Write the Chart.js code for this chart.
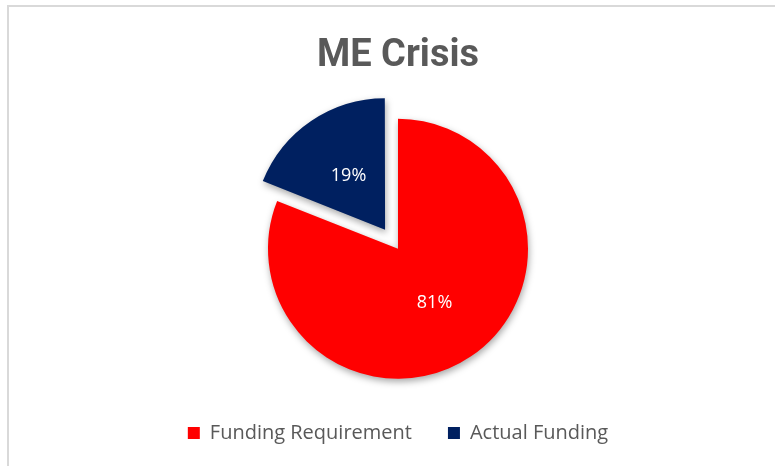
<!DOCTYPE html>
<html>
<head>
<meta charset="utf-8">
<script src="https://cdn.jsdelivr.net/npm/chart.js@4"></script>
<style>
  html, body { margin: 0; padding: 0; background: #fff; }
  #frame { position: absolute; left: 7px; top: 5px; width: 800px; height: 500px;
           border-left: 2px solid #d9d9d9; border-top: 2px solid #d9d9d9; }
  #wrap { position: absolute; left: 0; top: 0; width: 775px; height: 466px; }
</style>
</head>
<body>
<div id="frame"></div>
<div id="wrap"><canvas id="c" width="775" height="466"></canvas></div>
<script>
// data
const labels = ["Funding Requirement", "Actual Funding"];
const values = [81, 19];
const colors = ["#ff0000", "#002060"];

// how far each slice is pulled out, in px (chart.js moves an arc by offset/4)
const explodePx = [0, 23];

// soft drop shadow under the slices
const shadowPlugin = {
  id: "shadow",
  beforeDatasetsDraw(chart) {
    const ctx = chart.ctx;
    ctx.save();
    ctx.shadowColor = "rgba(0,0,0,0.35)";
    ctx.shadowBlur = 7;
    ctx.shadowOffsetX = 1;
    ctx.shadowOffsetY = 3;
  },
  afterDatasetsDraw(chart) {
    chart.ctx.restore();
  }
};

// percentage labels inside slices, halfway out from the centre
const pctPlugin = {
  id: "pct",
  afterDatasetsDraw(chart) {
    const ctx = chart.ctx;
    const meta = chart.getDatasetMeta(0);
    const total = values.reduce((a, b) => a + b, 0);
    ctx.save();
    ctx.fillStyle = "#ffffff";
    ctx.font = "18px 'Open Sans'";
    ctx.textAlign = "center";
    ctx.textBaseline = "middle";
    meta.data.forEach((arc, i) => {
      const mid = (arc.startAngle + arc.endAngle) / 2;
      const d = arc.outerRadius / 2 + explodePx[i];
      ctx.fillText(Math.round(values[i] / total * 100) + "%",
        arc.x + Math.cos(mid) * d, arc.y + Math.sin(mid) * d);
    });
    ctx.restore();
  }
};

new Chart(document.getElementById("c"), {
  type: "pie",
  data: {
    labels: labels,
    datasets: [{
      data: values,
      backgroundColor: colors,
      borderWidth: 0,
      offset: explodePx.map(v => v * 4)
    }]
  },
  options: {
    responsive: false,
    animation: false,
    radius: 130,
    layout: { padding: { left: 21, bottom: 13 } },
    plugins: {
      title: {
        display: true,
        text: "ME Crisis",
        color: "#595959",
        font: { family: "Roboto", size: 38, weight: "bold" },
        padding: { top: 34, bottom: 31 }
      },
      legend: {
        position: "bottom",
        labels: {
          color: "#595959",
          font: { family: "Open Sans", size: 20 },
          boxWidth: 12,
          boxHeight: 12,
          padding: 36
        }
      },
      tooltip: { enabled: false }
    }
  },
  plugins: [shadowPlugin, pctPlugin]
});
</script>
</body>
</html>
